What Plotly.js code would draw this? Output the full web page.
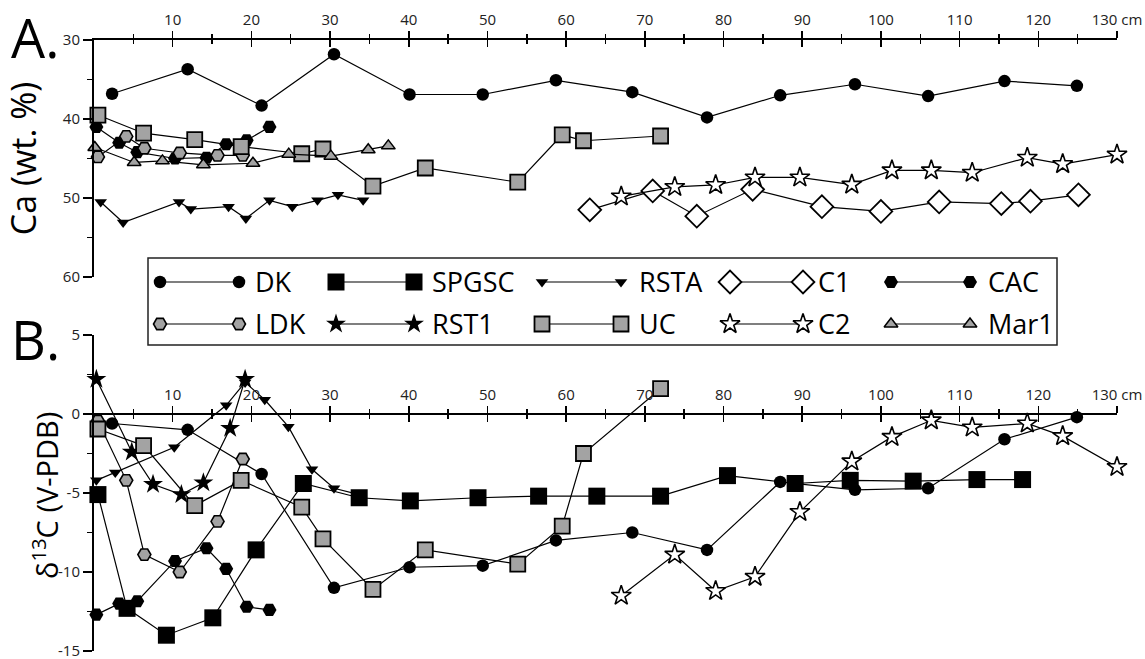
<!DOCTYPE html>
<html><head><meta charset="utf-8">
<script src="https://cdn.plot.ly/plotly-3.0.1.min.js"></script>
<style>html,body{margin:0;padding:0;background:#fff;} #chart{width:1145px;height:659px;}</style>
</head><body><div id="chart"></div>
<script>
// ---------- DATA (depth in cm, Ca in wt.%, d13C in permil V-PDB) ----------
const depthDK   = [2.3, 11.9, 21.3, 30.5, 40.1, 49.4, 58.7, 68.4, 77.9, 87.2, 96.7, 106.0, 115.7, 124.9];
const caDK      = [36.8, 33.7, 38.3, 31.8, 36.9, 36.9, 35.1, 36.6, 39.8, 37.0, 35.6, 37.1, 35.2, 35.8];
const d13DK     = [-0.6, -1.0, -3.8, -11.0, -9.7, -9.6, -8.0, -7.5, -8.6, -4.3, -4.8, -4.7, -1.6, -0.2];

const depthSPGSC = [0.5, 4.2, 9.2, 15.1, 20.6, 26.6, 33.7, 40.2, 48.8, 56.5, 63.9, 72.0, 80.5, 89.1, 96.1, 104.1, 112.2, 118.0];
const d13SPGSC   = [-5.1, -12.3, -14.0, -12.9, -8.6, -4.4, -5.3, -5.5, -5.3, -5.2, -5.2, -5.2, -3.9, -4.4, -4.2, -4.25, -4.15, -4.15];

const depthRSTA_A = [0.85, 3.7, 10.8, 12.3, 17.1, 19.3, 22.3, 25.2, 28.4, 31.0, 34.2];
const caRSTA      = [50.5, 53.1, 50.5, 51.4, 51.1, 52.6, 50.3, 51.1, 50.3, 49.6, 50.3];
const depthRSTA_B = [0.3, 2.7, 10.2, 16.8, 19.2, 21.7, 24.7, 27.7, 30.5, 33.7];
const d13RSTA     = [-4.2, -3.7, -2.1, 0.55, 2.0, 0.9, -0.8, -3.5, -4.7, -5.1];

const depthC1 = [63.0, 71.0, 76.6, 83.7, 92.5, 100.0, 107.4, 115.3, 119.0, 125.1];
const caC1    = [51.5, 49.1, 52.3, 48.9, 51.1, 51.7, 50.5, 50.7, 50.4, 49.6];

const depthCAC = [0.3, 3.2, 5.5, 10.3, 14.3, 16.8, 19.4, 22.3];
const caCAC    = [41.0, 43.0, 44.2, 45.0, 44.9, 43.2, 42.7, 41.0];
const d13CAC   = [-12.7, -12.0, -11.85, -9.3, -8.5, -9.8, -12.2, -12.4];

const depthLDK = [0.5, 4.1, 6.4, 10.9, 15.7, 18.9];
const caLDK    = [44.8, 42.2, 43.7, 44.3, 44.6, 44.6];
const d13LDK   = [-0.45, -4.2, -8.9, -10.0, -6.8, -2.85];

const depthRST1 = [0.3, 4.8, 7.5, 11.1, 13.9, 17.3, 19.2];
const d13RST1   = [2.2, -2.4, -4.45, -5.1, -4.35, -0.9, 2.2];

const depthUC = [0.5, 6.3, 12.8, 18.7, 26.4, 29.1, 35.45, 42.1, 53.85, 59.5, 62.2, 72.0];
const caUC    = [39.5, 41.8, 42.6, 43.5, 44.4, 43.8, 48.5, 46.2, 48.0, 42.0, 42.75, 42.15];
const d13UC   = [-0.95, -2.0, -5.8, -4.2, -5.9, -7.9, -11.1, -8.6, -9.5, -7.1, -2.5, 1.6];

const depthC2 = [67.0, 73.8, 79.0, 84.0, 89.7, 96.3, 101.4, 106.4, 111.6, 118.6, 123.1, 130.0];
const caC2    = [49.8, 48.6, 48.35, 47.4, 47.4, 48.3, 46.5, 46.5, 46.8, 44.9, 45.7, 44.5];
const d13C2   = [-11.5, -8.9, -11.2, -10.3, -6.2, -3.0, -1.45, -0.4, -0.85, -0.6, -1.4, -3.35];

const depthMar1 = [0.1, 5.1, 8.7, 13.9, 20.2, 24.75, 30.1, 34.85, 37.4];
const caMar1    = [43.6, 45.5, 45.3, 45.8, 45.6, 44.45, 44.7, 43.9, 43.4];

const xTickVals  = [10, 20, 30, 40, 50, 60, 70, 80, 90, 100, 110, 120, 130];
const xTickText  = ['10','20','30','40','50','60','70','80','90','100','110','120','130 cm'];
const xMinorVals = [5, 15, 25, 35, 45, 55, 65, 75, 85, 95, 105, 115, 125];
const caTickVals = [30, 40, 50, 60];
const caMinorVals = [35, 45, 55];
const d13TickVals = [5, 0, -5, -10, -15];
const d13TickText = ['5', '0', '-5', '-10', '-15'];
const d13MinorVals = [2.5, -2.5, -7.5, -12.5];

const seriesNames = ['DK', 'SPGSC', 'RSTA', 'C1', 'CAC', 'LDK', 'RST1', 'UC', 'C2', 'Mar1'];

// ---------- STYLES ----------
const GRAY = '#a3a3a3';
const sty = {
  DK:    {symbol: 'circle',        size: 12.5, color: '#000', lw: 0},
  SPGSC: {symbol: 'square',        size: 17, color: '#000', lw: 0},
  RSTA:  {symbol: 'triangle-down', size: 11, color: '#000', lw: 0},
  C1:    {symbol: 'diamond',       size: 17.5, color: '#fff', lw: 1.8},
  CAC:   {symbol: 'hexagon2',      size: 14, color: '#000', lw: 0},
  LDK:   {symbol: 'hexagon2',      size: 13, color: GRAY,   lw: 1.6},
  RST1:  {symbol: 'star',          size: 15, color: '#000', lw: 0},
  UC:    {symbol: 'square',        size: 15, color: GRAY,   lw: 1.8},
  C2:    {symbol: 'star',          size: 15, color: '#fff', lw: 1.6},
  Mar1:  {symbol: 'triangle-up',   size: 12, color: GRAY,   lw: 1.5}
};
function mk(name) {
  const s = sty[name];
  return {symbol: s.symbol, size: s.size, color: s.color, line: {color: '#000', width: s.lw}};
}
function tr(name, x, y, xa, ya) {
  return {type: 'scatter', mode: 'lines+markers', name: name, x: x, y: y,
          xaxis: xa, yaxis: ya, line: {color: '#000', width: 1.2},
          marker: mk(name), cliponaxis: false, showlegend: false, hoverinfo: 'x+y+name'};
}

const traces = [
  // Panel A
  tr('DK', depthDK, caDK, 'x', 'y'),
  tr('RSTA', depthRSTA_A, caRSTA, 'x', 'y'),
  tr('C1', depthC1, caC1, 'x', 'y'),
  tr('CAC', depthCAC, caCAC, 'x', 'y'),
  tr('LDK', depthLDK, caLDK, 'x', 'y'),
  tr('UC', depthUC, caUC, 'x', 'y'),
  tr('C2', depthC2, caC2, 'x', 'y'),
  tr('Mar1', depthMar1, caMar1, 'x', 'y'),
  // Panel B
  tr('DK', depthDK, d13DK, 'x2', 'y2'),
  tr('SPGSC', depthSPGSC, d13SPGSC, 'x2', 'y2'),
  tr('RSTA', depthRSTA_B, d13RSTA, 'x2', 'y2'),
  tr('CAC', depthCAC, d13CAC, 'x2', 'y2'),
  tr('LDK', depthLDK, d13LDK, 'x2', 'y2'),
  tr('RST1', depthRST1, d13RST1, 'x2', 'y2'),
  tr('UC', depthUC, d13UC, 'x2', 'y2'),
  tr('C2', depthC2, d13C2, 'x2', 'y2'),
  // helpers for crossing ticks
  {type: 'scatter', x: [], y: [], xaxis: 'x3', yaxis: 'y', showlegend: false, hoverinfo: 'skip'},
  {type: 'scatter', x: [], y: [], xaxis: 'x4', yaxis: 'y2', showlegend: false, hoverinfo: 'skip'}
];

// ---------- LAYOUT GEOMETRY ----------
const W = 1145, H = 659, ML = 94, MR = 28, MT = 40, MB = 8;
const plotH = H - MT - MB, plotW = W - ML - MR;
const py = p => (H - MB - p) / plotH;      // page y px -> paper
const px = p => (p - ML) / plotW;          // page x px -> paper
const domA = [py(277), 1];
const domB = [0, py(335)];
const zeroPos = domB[0] + (0 - (-15)) / 20 * (domB[1] - domB[0]);

// custom legend (two-marker swatches) on a hidden page-pixel axis
const legCol1 = [160, 336, 542, 730, 891];
const legCol2 = [239, 414, 621, 803, 970];
const legText = [253, 430, 637, 816, 986];
const legRows = [282, 324];
const annotations = [];
seriesNames.forEach((name, i) => {
  const r = Math.floor(i / 5), c = i % 5;
  traces.push({type: 'scatter', mode: 'lines+markers', x: [legCol1[c], legCol2[c]], y: [legRows[r], legRows[r]],
    xaxis: 'x5', yaxis: 'y5', line: {color: '#000', width: 1.2}, marker: mk(name),
    cliponaxis: false, showlegend: false, hoverinfo: 'skip'});
  annotations.push({xref: 'x5', yref: 'y5', x: legText[c], y: legRows[r] - 1, text: name, showarrow: false,
    xanchor: 'left', yanchor: 'middle', font: {family: 'Open Sans, sans-serif', size: 27, color: '#000'}});
});
annotations.push({xref: 'paper', yref: 'paper', x: px(9), y: py(37), text: 'A.', showarrow: false,
  xanchor: 'left', yanchor: 'middle', font: {family: 'Open Sans, sans-serif', size: 54, color: '#000'}});
annotations.push({xref: 'paper', yref: 'paper', x: px(9), y: py(339), text: 'B.', showarrow: false,
  xanchor: 'left', yanchor: 'middle', font: {family: 'Open Sans, sans-serif', size: 54, color: '#000'}});
annotations.push({xref: 'paper', yref: 'paper', x: px(45), y: py(496), text: 'δ<sup>13</sup>C (V-PDB)', showarrow: false,
  textangle: -90, xanchor: 'center', yanchor: 'middle', font: {family: 'Open Sans, sans-serif', size: 29, color: '#000'}});

const tickFont = {family: 'Open Sans, sans-serif', size: 15, color: '#222'};
const baseX = {
  range: [0, 130], tickmode: 'array', tickvals: xTickVals, ticktext: xTickText,
  side: 'top', ticks: 'outside', ticklen: 7, tickwidth: 1.6, tickcolor: '#000',
  minor: {tickmode: 'array', tickvals: xMinorVals, ticks: 'outside', ticklen: 4, tickwidth: 1.4, tickcolor: '#000'},
  showline: true, linecolor: '#000', linewidth: 2, showgrid: false, zeroline: false,
  tickfont: tickFont, fixedrange: true, ticklabeloverflow: 'allow'
};
const overX = {
  range: [0, 130], tickmode: 'array', tickvals: xTickVals, side: 'top', ticks: 'inside', ticklen: 7, tickwidth: 1.6,
  tickcolor: '#000', showticklabels: false,
  minor: {tickmode: 'array', tickvals: xMinorVals, ticks: 'inside', ticklen: 4, tickwidth: 1.4, tickcolor: '#000'},
  showline: false, showgrid: false, zeroline: false, fixedrange: true
};

const layout = {
  width: W, height: H, margin: {l: ML, r: MR, t: MT, b: MB},
  paper_bgcolor: '#fff', plot_bgcolor: 'rgba(0,0,0,0)', showlegend: false,
  font: {family: 'Open Sans, sans-serif', color: '#000'},
  xaxis: Object.assign({}, baseX, {domain: [0, 1], anchor: 'y'}),
  xaxis3: Object.assign({}, overX, {overlaying: 'x', anchor: 'y'}),
  yaxis: {
    domain: domA, range: [60, 30], anchor: 'x', tickmode: 'array', tickvals: caTickVals,
    ticks: 'outside', ticklen: 9, tickwidth: 1.6, tickcolor: '#000',
    minor: {tickmode: 'array', tickvals: caMinorVals, ticks: 'outside', ticklen: 5, tickwidth: 1.4, tickcolor: '#000'},
    showline: true, linecolor: '#000', linewidth: 2, showgrid: false, zeroline: false,
    tickfont: tickFont, fixedrange: true, ticklabeloverflow: 'allow',
    title: {text: 'Ca (wt. %)', font: {family: 'Open Sans, sans-serif', size: 34, color: '#000'}, standoff: 18}
  },
  xaxis2: Object.assign({}, baseX, {domain: [0, 1], anchor: 'free', position: zeroPos}),
  xaxis4: Object.assign({}, overX, {overlaying: 'x2', anchor: 'free', position: zeroPos}),
  yaxis2: {
    domain: domB, range: [-15, 5], anchor: 'x2', tickmode: 'array', tickvals: d13TickVals, ticktext: d13TickText,
    ticks: 'outside', ticklen: 9, tickwidth: 1.6, tickcolor: '#000',
    minor: {tickmode: 'array', tickvals: d13MinorVals, ticks: 'outside', ticklen: 5, tickwidth: 1.4, tickcolor: '#000'},
    showline: true, linecolor: '#000', linewidth: 2, showgrid: false, zeroline: false,
    tickfont: tickFont, fixedrange: true, ticklabeloverflow: 'allow'
  },
  xaxis5: {domain: [0, 1], range: [ML, W - MR], anchor: 'y5', visible: false, fixedrange: true},
  yaxis5: {domain: [0, 1], range: [H - MB, MT], anchor: 'x5', visible: false, fixedrange: true},
  shapes: [{type: 'rect', xref: 'x5', yref: 'y5', x0: 148, x1: 1057, y0: 258, y1: 345,
            line: {color: '#222', width: 1.5}, fillcolor: 'rgba(0,0,0,0)', layer: 'below'}],
  annotations: annotations
};

Plotly.newPlot('chart', traces, layout, {displayModeBar: false, staticPlot: true});
</script>
</body></html>
